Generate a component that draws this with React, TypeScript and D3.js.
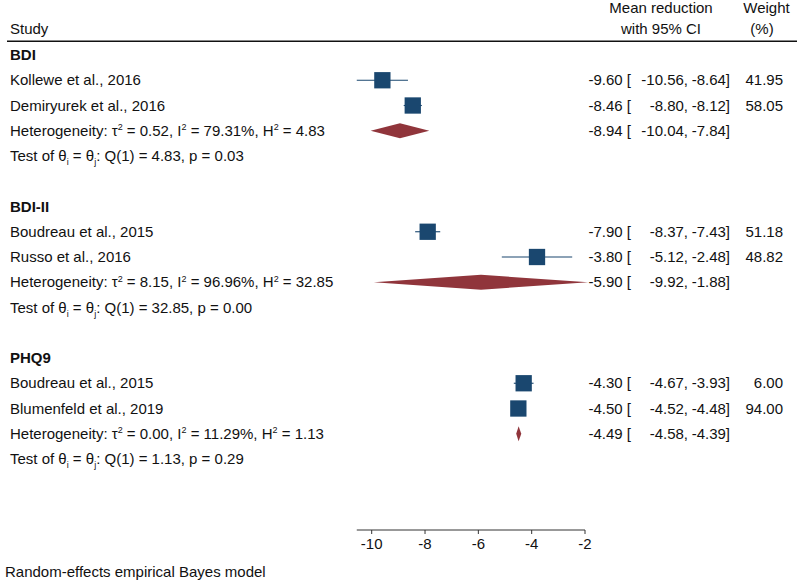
import React from "react";
import * as d3 from "d3";

const groups = ["BDI", "BDI-II", "PHQ9"];
const studies = [
  "Kollewe et al., 2016",
  "Demiryurek et al., 2016",
  "Boudreau et al., 2015",
  "Russo et al., 2016",
  "Boudreau et al., 2015",
  "Blumenfeld et al., 2019",
];
const studyGroup = [0, 0, 1, 1, 2, 2];
const studyEst = [-9.6, -8.46, -7.9, -3.8, -4.3, -4.5];
const studyLo = [-10.56, -8.8, -8.37, -5.12, -4.67, -4.52];
const studyHi = [-8.64, -8.12, -7.43, -2.48, -3.93, -4.48];
const studyWeight = [41.95, 58.05, 51.18, 48.82, 6.0, 94.0];

const groupEst = [-8.94, -5.9, -4.49];
const groupLo = [-10.04, -9.92, -4.58];
const groupHi = [-7.84, -1.88, -4.39];
const tau2 = ["0.52", "8.15", "0.00"];
const i2 = ["79.31", "96.96", "11.29"];
const h2 = ["4.83", "32.85", "1.13"];
const qStat = ["4.83", "32.85", "1.13"];
const pVal = ["0.03", "0.00", "0.29"];

const xTicks = [-10, -8, -6, -4, -2];

const W = 797;
const H = 580;
const NAVY = "#1a476f";
const MAROON = "#90353b";
const FONT = "'Liberation Sans', Arial, Helvetica, sans-serif";

export default function App() {
  const x = d3.scaleLinear().domain([-10, -2]).range([371.7, 585]);
  const yRow = d3.scaleLinear().domain([0, 16]).range([55, 459]);
  const axisMin = Math.min(d3.min(studyLo)!, d3.min(groupLo)!);
  const f2 = d3.format(".2f");
  const fmt = (v: number) => f2(v).replace("\u2212", "-");
  const fs = 15;
  const sq = 16.3;
  const dh = 7.5;
  const SUP = 5.5;
  const SUB = 4;

  const rows: React.ReactNode[] = [];
  groups.forEach((g, gi) => {
    const base = gi * 6;
    rows.push(
      <text key={`g${gi}`} x={10} y={yRow(base)} dy={5} fontWeight="bold">
        {g}
      </text>
    );
    const idx = studies.map((_, i) => i).filter((i) => studyGroup[i] === gi);
    idx.forEach((si, k) => {
      const y = yRow(base + 1 + k);
      rows.push(
        <g key={`s${si}`}>
          <text x={10} y={y} dy={5}>{studies[si]}</text>
          <line x1={x(studyLo[si])} x2={x(studyHi[si])} y1={y} y2={y} stroke={NAVY} strokeWidth={1.1} />
          <rect x={x(studyEst[si]) - sq / 2} y={y - sq / 2} width={sq} height={sq} fill={NAVY} />
          <text x={631} y={y} dy={5} textAnchor="end">{`${fmt(studyEst[si])} [`}</text>
          <text x={688} y={y} dy={5} textAnchor="end">{`${fmt(studyLo[si])},`}</text>
          <text x={730} y={y} dy={5} textAnchor="end">{`${fmt(studyHi[si])}]`}</text>
          <text x={783} y={y} dy={5} textAnchor="end">{fmt(studyWeight[si])}</text>
        </g>
      );
    });
    const yh = yRow(base + 1 + idx.length);
    const yt = yRow(base + 2 + idx.length);
    const dpts = [
      [x(groupLo[gi]), yh],
      [x(groupEst[gi]), yh - dh],
      [x(groupHi[gi]), yh],
      [x(groupEst[gi]), yh + dh],
    ];
    rows.push(
      <g key={`h${gi}`}>
        <text x={10} y={yh} dy={5}>
          {"Heterogeneity: τ"}
          <tspan fontSize={9} dy={-SUP}>2</tspan>
          <tspan dy={SUP}>{` = ${tau2[gi]}, I`}</tspan>
          <tspan fontSize={9} dy={-SUP}>2</tspan>
          <tspan dy={SUP}>{` = ${i2[gi]}%, H`}</tspan>
          <tspan fontSize={9} dy={-SUP}>2</tspan>
          <tspan dy={SUP}>{` = ${h2[gi]}`}</tspan>
        </text>
        <path d={d3.line()(dpts as [number, number][]) + "Z"} fill={MAROON} />
        <text x={631} y={yh} dy={5} textAnchor="end">{`${fmt(groupEst[gi])} [`}</text>
        <text x={688} y={yh} dy={5} textAnchor="end">{`${fmt(groupLo[gi])},`}</text>
        <text x={730} y={yh} dy={5} textAnchor="end">{`${fmt(groupHi[gi])}]`}</text>
        <text x={10} y={yt} dy={5}>
          {"Test of θ"}
          <tspan fontSize={9} dy={SUB}>i</tspan>
          <tspan dy={-SUB}>{" = θ"}</tspan>
          <tspan fontSize={9} dy={SUB}>j</tspan>
          <tspan dy={-SUB}>{`: Q(1) = ${qStat[gi]}, p = ${pVal[gi]}`}</tspan>
        </text>
      </g>
    );
  });

  const axisY = 530;

  return (
    <div style={{ position: "absolute", left: 0, top: 0 }}>
      <svg width={W} height={H} style={{ display: "block", background: "#fff" }} fontFamily={FONT} fontSize={fs} fill="#111">
        <text x={10} y={29} dy={5}>Study</text>
        <text x={661} y={8} dy={5} textAnchor="middle">Mean reduction</text>
        <text x={661} y={29} dy={5} textAnchor="middle">with 95% CI</text>
        <text x={766.5} y={8} dy={5} textAnchor="middle">Weight</text>
        <text x={762} y={29} dy={5} textAnchor="middle">(%)</text>
        <line x1={7} x2={W} y1={41.3} y2={41.3} stroke="#111" strokeWidth={1.6} />
        {rows}
        <line x1={x(axisMin)} x2={x(-2)} y1={axisY} y2={axisY} stroke="#333" strokeWidth={1} />
        {xTicks.map((t) => (
          <g key={t}>
            <line x1={x(t)} x2={x(t)} y1={axisY} y2={axisY + 4} stroke="#333" strokeWidth={1} />
            <text x={x(t)} y={544} dy={5} textAnchor="middle">{String(t)}</text>
          </g>
        ))}
        <text x={5} y={571.7} dy={5}>Random-effects empirical Bayes model</text>
      </svg>
    </div>
  );
}
